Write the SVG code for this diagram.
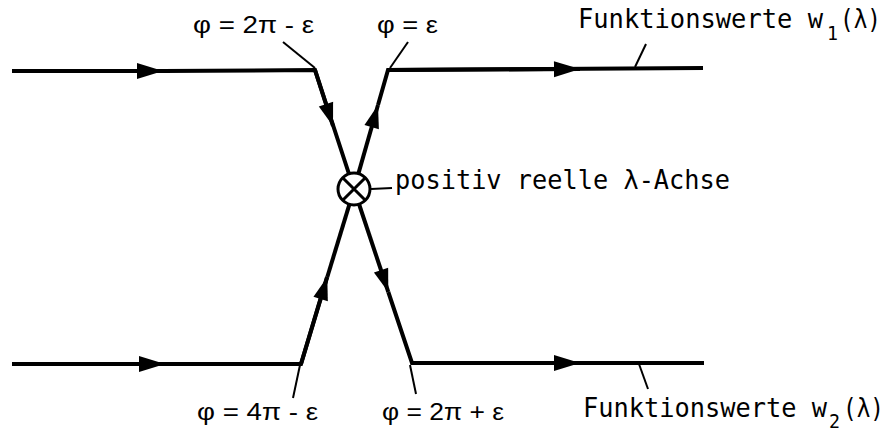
<svg xmlns="http://www.w3.org/2000/svg" width="888" height="432" viewBox="0 0 888 432">
<style>
.ln{fill:none;stroke:#000;stroke-width:4;stroke-linejoin:miter}
.tk{fill:none;stroke:#000;stroke-width:2}
.arr{marker-end:url(#ah)}
.arr2{marker-end:url(#ah2)}
.sans{font-family:"Liberation Sans",Arial,sans-serif;font-size:24px;fill:#000}
.mono{font-family:"DejaVu Sans Mono","Liberation Mono",monospace;font-size:27px;fill:#000}
.sub{font-size:20px}
</style>
<defs>
<marker id="ah" markerUnits="userSpaceOnUse" viewBox="-27 -9 29 18" refX="0" refY="0" markerWidth="29" markerHeight="18" orient="auto">
<path d="M0,0 L-26,-8 L-26,8 Z" fill="#000"/>
</marker>
<marker id="ah2" markerUnits="userSpaceOnUse" viewBox="-25 -9 27 18" refX="0" refY="0" markerWidth="27" markerHeight="18" orient="auto">
<path d="M0,0 L-23,-7.5 L-23,7.5 Z" fill="#000"/>
</marker>
</defs>
<rect width="888" height="432" fill="#fff"/>
<g id="connectors">
<path class="ln arr" d="M12,71 L163,71"/>
<path class="ln" d="M163,71 L315,70 L349,174"/>
<path class="ln arr2" d="M315,70 L333,126"/>
<path class="ln arr2" d="M358.4,173.6 L378,105"/>
<path class="ln" d="M378,105 L388,70 L703,68"/>
<path class="ln arr" d="M388,70 L580,69"/>
<path class="ln arr" d="M12,364 L165,364"/>
<path class="ln" d="M165,364 L301,364 L327,277"/>
<path class="ln arr2" d="M301,364 L327.3,277"/>
<path class="ln" d="M327.3,277 L349.4,204.3"/>
<path class="ln arr2" d="M359,204 L388.3,292"/>
<path class="ln" d="M388.3,292 L412,363 L704,363"/>
<path class="ln arr" d="M412,363 L580,363"/>
</g>
<g id="node-cross">
<circle cx="354" cy="189" r="16" fill="#fff" stroke="#000" stroke-width="3"/>
<path d="M342.7,177.7 L365.3,200.3 M365.3,177.7 L342.7,200.3" stroke="#000" stroke-width="3"/>
</g>
<g id="ticks">
<path class="tk" d="M283,42 L315,68"/>
<path class="tk" d="M408,42 L390,68"/>
<path class="tk" d="M635,67 L646,44"/>
<path class="tk" d="M639,364 L648,389"/>
<path class="tk" d="M300,365 L293,398"/>
<path class="tk" d="M410,365 L416,394"/>
<path class="tk" d="M371,189 L392,188"/>
</g>
<g id="label-phi1">
<text class="sans" x="193" y="33" textLength="121" lengthAdjust="spacingAndGlyphs">φ = 2π - ε</text>
</g>
<g id="label-phi2">
<text class="sans" x="377" y="33" textLength="61" lengthAdjust="spacingAndGlyphs">φ = ε</text>
</g>
<g id="label-phi3">
<text class="sans" x="197" y="420" textLength="121" lengthAdjust="spacingAndGlyphs">φ = 4π - ε</text>
</g>
<g id="label-phi4">
<text class="sans" x="382" y="420" textLength="122" lengthAdjust="spacingAndGlyphs">φ = 2π + ε</text>
</g>
<g id="label-axis">
<text class="mono" x="395" y="189" textLength="335" lengthAdjust="spacingAndGlyphs">positiv reelle λ-Achse</text>
</g>
<g id="label-w1">
<text class="mono"><tspan x="578" y="28" textLength="245" lengthAdjust="spacingAndGlyphs">Funktionswerte w</tspan><tspan class="sub" x="827" y="40" textLength="11" lengthAdjust="spacingAndGlyphs">1</tspan><tspan x="840" y="28" textLength="41" lengthAdjust="spacingAndGlyphs">(λ)</tspan></text>
</g>
<g id="label-w2">
<text class="mono"><tspan x="583" y="417" textLength="244" lengthAdjust="spacingAndGlyphs">Funktionswerte w</tspan><tspan class="sub" x="829" y="428" textLength="11" lengthAdjust="spacingAndGlyphs">2</tspan><tspan x="843" y="417" textLength="41" lengthAdjust="spacingAndGlyphs">(λ)</tspan></text>
</g>
</svg>
